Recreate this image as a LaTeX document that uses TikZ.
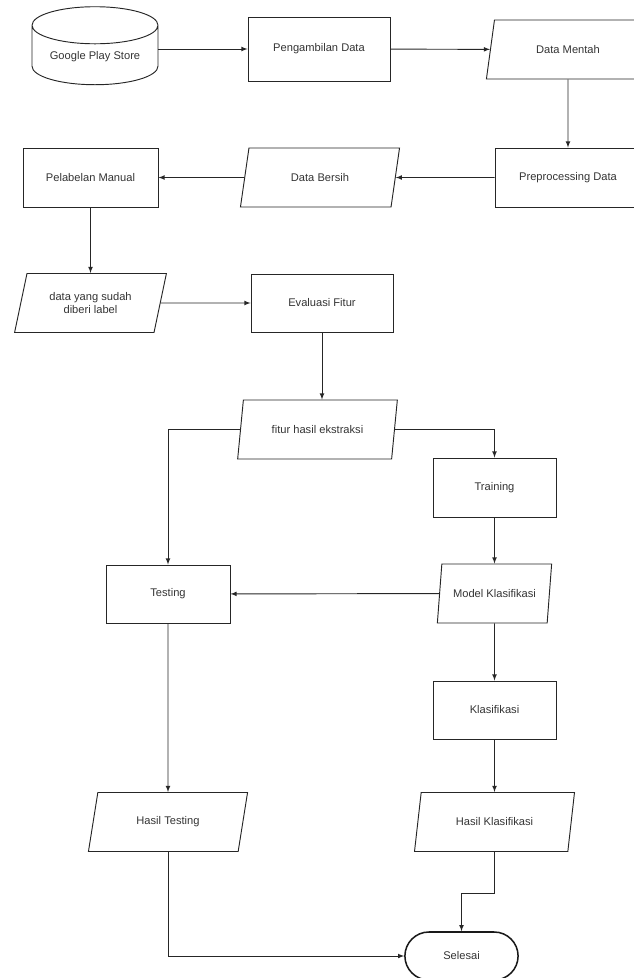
\documentclass[tikz,border=0pt]{standalone}
\usepackage{fontspec}
\setmainfont{Liberation Sans}
\usetikzlibrary{shapes.geometric,shapes.misc}

\begin{document}
\begin{tikzpicture}[x=0.03cm, y=-0.03cm,
    every node/.style={font=\fontsize{9.5}{11.5}\selectfont, text=black!80},
    prosesnode/.style={rectangle, draw=black!85, line width=0.8pt, minimum width=4.26cm, minimum height=1.77cm, inner sep=1pt},
    datanode/.style={trapezium, trapezium left angle=71, trapezium right angle=109, trapezium stretches=true, draw=black!85, line width=0.8pt, minimum width=4.8cm, minimum height=1.77cm, inner sep=1pt, align=center},
    dbnode/.style={cylinder, shape border rotate=90, aspect=0.4, draw=black!85, line width=0.8pt, minimum width=3.78cm, minimum height=2.34cm, inner sep=1pt},
    endnode/.style={rounded rectangle, draw=black!90, line width=1.3pt, minimum width=3.63cm, minimum height=1.44cm},
    panah/.style={->, >=latex, draw=black!85, line width=0.8pt}
    ]
    \useasboundingbox (0,0) rectangle (633,978);

    \node [dbnode] (gps) at (95, 57) {Google Play Store};
    \node [prosesnode, minimum height=1.92cm] (ambil) at (319, 49) {Pengambilan Data};
    \node [datanode, minimum width=4.92cm] (mentah) at (568, 49.5) {Data Mentah};

    \node [prosesnode, minimum width=4.38cm] (prepro) at (568, 177.5) {Preprocessing Data};
    \node [datanode] (bersih) at (320, 177.5) {Data Bersih};
    \node [prosesnode, minimum width=4.05cm] (label) at (90.5, 177.5) {Pelabelan Manual};

    \node [datanode, minimum width=4.59cm] (berlabel) at (90.5, 303) {data yang sudah\\diberi label};
    \node [prosesnode, minimum height=1.74cm] (evaluasi) at (322, 303) {Evaluasi Fitur};

    \node [datanode, minimum width=4.83cm] (fitur) at (317.5, 429.5) {fitur hasil ekstraksi};
    \node [prosesnode, minimum width=3.69cm] (training) at (494.5, 487.5) {Training};
    \node [prosesnode, minimum width=3.72cm, minimum height=1.74cm] (testing) at (168, 594) {Testing};
    \node [datanode, minimum width=3.45cm] (model) at (494.5, 593.5) {Model Klasifikasi};
    \node [prosesnode, minimum width=3.69cm, minimum height=1.74cm] (klasifikasi) at (494.5, 710) {Klasifikasi};

    \node [datanode] (hasiltest) at (168, 822) {Hasil Testing};
    \node [datanode, minimum width=4.83cm] (hasilklas) at (494.5, 822) {Hasil Klasifikasi};
    \node [endnode] (selesai) at (461.5, 956) {Selesai};

    \draw [panah] (gps.east |- ambil.west) -- (ambil);
    \draw [panah] (ambil) -- (mentah);
    \draw [panah] (mentah) -- (prepro);
    \draw [panah] (prepro) -- (bersih);
    \draw [panah] (bersih) -- (label);
    \draw [panah] (label) -- (berlabel);
    \draw [panah] (berlabel) -- (evaluasi);
    \draw [panah] (evaluasi.south) -- (evaluasi.south |- fitur.north);
    \draw [panah] (fitur.west) -| (testing.north);
    \draw [panah] (fitur.east) -| (training.north);
    \draw [panah] (training) -- (model);
    \draw [panah] (model) -- (testing);
    \draw [panah] (model) -- (klasifikasi);
    \draw [panah] (klasifikasi) -- (hasilklas);
    \draw [panah] (testing) -- (hasiltest);
    \draw [panah] (hasilklas.south) -- ++(0, 41) -| (selesai.north);
    \draw [panah] (hasiltest.south) |- (selesai.west);
\end{tikzpicture}
\end{document}
